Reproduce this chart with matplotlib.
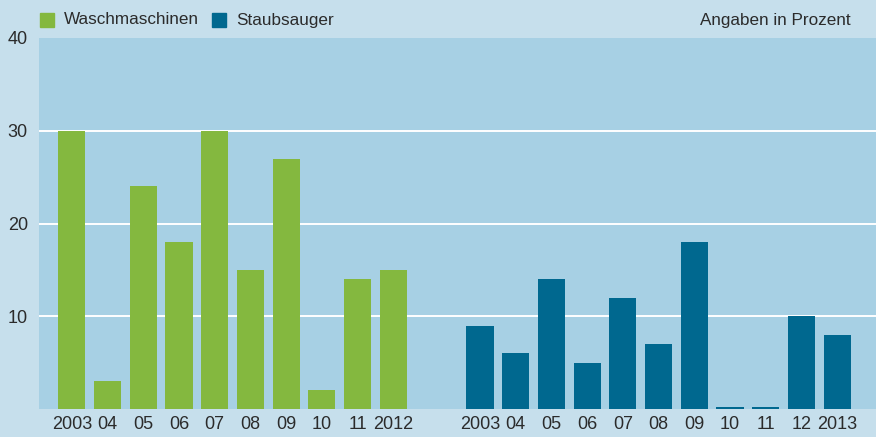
import numpy as np
import matplotlib.pyplot as plt
from matplotlib.patches import Rectangle

# Daten (Angaben in Prozent)
wasch_labels = ['2003', '04', '05', '06', '07', '08', '09', '10', '11', '2012']
wasch_values = [30, 3, 24, 18, 30, 15, 27, 2, 14, 15]

staub_labels = ['2003', '04', '05', '06', '07', '08', '09', '10', '11', '12', '2013']
staub_values = [9, 6, 14, 5, 12, 7, 18, 0.2, 0.2, 10, 8]

green = '#84b83f'
blue = '#00688f'
outer_bg = '#c6dfec'
inner_bg = '#a7d0e4'
txt = '#2b2b2b'

plt.rcParams['font.family'] = ['Liberation Sans', 'DejaVu Sans']

fig = plt.figure(figsize=(8.76, 4.37), dpi=100, facecolor=outer_bg)
ax = fig.add_axes([39 / 876, 28 / 437, 837 / 876, 371 / 437])
ax.set_facecolor(inner_bg)

gap = 2.43
x_w = np.arange(len(wasch_values))
x_s = np.arange(len(staub_values)) + len(wasch_values) - 1 + gap

ax.bar(x_w, wasch_values, width=0.76, color=green, zorder=3)
ax.bar(x_s, staub_values, width=0.76, color=blue, zorder=3)

ax.set_ylim(0, 40)
ax.set_xlim(-0.92, x_s[0] + 11.09)
ax.set_yticks([10, 20, 30, 40])
for y in [10, 20, 30]:
    ax.axhline(y, color='white', linewidth=1.4, zorder=1)

ax.set_xticks(list(x_w) + list(x_s))
ax.set_xticklabels(wasch_labels + staub_labels)
ax.tick_params(axis='both', length=0, labelsize=13, colors=txt)
ax.tick_params(axis='x', pad=5)
ax.tick_params(axis='y', pad=8)
for s in ax.spines.values():
    s.set_visible(False)

# Legende
fig.patches.append(Rectangle((40 / 876, 1 - 27 / 437), 14 / 876, 14 / 437,
                             transform=fig.transFigure, color=green))
fig.text(64 / 876, 1 - 20 / 437, 'Waschmaschinen', fontsize=12.3, color=txt, va='center')
fig.patches.append(Rectangle((212 / 876, 1 - 27 / 437), 14 / 876, 14 / 437,
                             transform=fig.transFigure, color=blue))
fig.text(236 / 876, 1 - 20 / 437, 'Staubsauger', fontsize=12.3, color=txt, va='center')
fig.text(851 / 876, 1 - 20 / 437, 'Angaben in Prozent', fontsize=12.3, color=txt,
         va='center', ha='right')

fig.savefig('out.png', dpi=100, facecolor=outer_bg)
